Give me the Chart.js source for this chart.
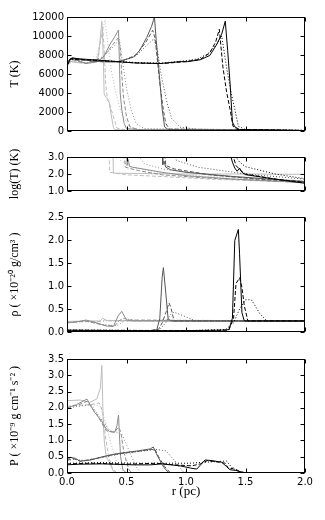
<!DOCTYPE html>
<html>
<head>
<meta charset="utf-8">
<script src="https://cdn.jsdelivr.net/npm/chart.js@4"></script>
<style>
  html, body { margin: 0; padding: 0; background: #fff; }
  #wrap { position: relative; width: 325px; height: 520px; }
  canvas { position: absolute; left: 0; }
</style>
</head>
<body>
<div id="wrap">
  <canvas id="tempChart" width="325" height="132" style="top:8px"></canvas>
  <canvas id="logChart" width="325" height="52" style="top:148px"></canvas>
  <canvas id="rhoChart" width="325" height="133" style="top:208px"></canvas>
  <canvas id="presChart" width="325" height="170" style="top:350px"></canvas>
</div>
<script>
// r (pc) ticks shared by all panels
const rTicks = [0, 0.5, 1.0, 1.5, 2.0];

// ---- temperature T (K), [r, T] ----
const tempG4Solid = [[0,6800],[0.02,7400],[0.04,7700],[0.1,7600],[0.28,7440],[0.56,7170],[0.78,7100],[0.95,7300],[1.01,7300],[1.12,7500],[1.2,7950],[1.26,9150],[1.3,10190],[1.33,11560],[1.35,8500],[1.37,5070],[1.39,950],[1.41,440],[1.45,150],[2,50]];
const tempG4Dashed = [[0,6900],[0.03,7600],[0.1,7550],[0.3,7400],[0.6,7150],[0.8,7100],[1.0,7300],[1.12,7550],[1.2,8200],[1.25,9400],[1.28,10700],[1.31,6750],[1.34,4200],[1.37,2300],[1.395,500],[1.43,150],[2,50]];
const tempG4Dotted = [[0,6900],[0.03,7600],[0.1,7550],[0.3,7400],[0.6,7200],[0.8,7150],[1.0,7400],[1.1,7600],[1.18,8100],[1.25,9000],[1.3,10000],[1.34,6750],[1.38,4000],[1.41,2300],[1.44,500],[1.5,150],[2,80]];
const tempG3Solid = [[0,6900],[0.02,7500],[0.05,7650],[0.15,7450],[0.28,7300],[0.42,7270],[0.56,7780],[0.61,8470],[0.67,9840],[0.71,11000],[0.735,12000],[0.75,9500],[0.77,6750],[0.8,2300],[0.82,430],[0.85,150],[2,50]];
const tempG3Dashed = [[0,6900],[0.03,7550],[0.15,7450],[0.3,7300],[0.45,7300],[0.58,8000],[0.66,9300],[0.72,10600],[0.74,9800],[0.78,5000],[0.81,2200],[0.83,800],[0.86,200],[2,50]];
const tempG3Dotted = [[0,6900],[0.03,7550],[0.15,7450],[0.3,7300],[0.45,7300],[0.58,7900],[0.66,8900],[0.73,9700],[0.76,8500],[0.79,6000],[0.84,3000],[0.88,1300],[0.95,400],[1.09,200],[2,50]];
const tempG2Solid = [[0,7300],[0.03,7600],[0.1,7400],[0.16,7100],[0.25,7270],[0.307,7780],[0.363,9160],[0.4,9900],[0.433,10630],[0.44,7500],[0.447,4000],[0.46,2300],[0.48,800],[0.5,250],[0.6,150],[2,50]];
const tempG2Dashed = [[0,7200],[0.05,7500],[0.16,7100],[0.3,7700],[0.38,9000],[0.43,9800],[0.45,8500],[0.46,6000],[0.475,3500],[0.5,1500],[0.53,400],[0.6,150],[2,50]];
const tempG2Dotted = [[0,7200],[0.05,7500],[0.16,7150],[0.3,7800],[0.4,9000],[0.44,9700],[0.47,7000],[0.5,4500],[0.54,2200],[0.58,800],[0.65,250],[2,50]];
const tempG1Solid = [[0,7000],[0.02,7350],[0.06,7250],[0.12,7150],[0.2,7200],[0.25,7350],[0.265,8000],[0.275,9200],[0.293,11550],[0.3,9500],[0.307,6800],[0.312,3900],[0.33,3500],[0.35,3300],[0.37,1800],[0.39,400],[0.4,150],[0.5,100],[2,50]];
const tempG1Dashed = [[0,7050],[0.05,7300],[0.15,7150],[0.25,7300],[0.27,8500],[0.3,11000],[0.315,8000],[0.325,5000],[0.34,3300],[0.36,2800],[0.39,1500],[0.42,300],[0.5,100],[2,50]];
const tempG1Dotted = [[0,7000],[0.05,7300],[0.15,7150],[0.24,7400],[0.27,9000],[0.32,11700],[0.34,9500],[0.37,6500],[0.41,4000],[0.46,1800],[0.52,500],[0.6,200],[2,50]];
const tempTicks = [0, 2000, 4000, 6000, 8000, 10000, 12000];

// ---- log(T) ----
const logG4Solid = [[1.37,3.2],[1.39,2.7],[1.41,2.35],[1.43,2.16],[1.45,2.35],[1.47,2.1],[1.5,1.96],[1.75,1.7],[2,1.45]];
const logG4Dashed = [[1.39,3.2],[1.42,2.5],[1.46,2.2],[1.5,2.0],[1.75,1.7],[2,1.5]];
const logG4Dotted = [[1.4,3.2],[1.45,2.7],[1.5,2.43],[1.75,2.0],[2,1.72]];
const logG3Solid = [[0.8,3.5],[0.805,2.55],[0.815,2.75],[0.83,2.4],[0.87,2.25],[1.0,2.1],[1.4,1.85],[2,1.55]];
const logG3Dashed = [[0.82,3.5],[0.83,2.5],[0.9,2.3],[1.2,1.95],[1.6,1.7],[2,1.55]];
const logG3Dotted = [[0.88,3.5],[0.92,2.8],[1.1,2.4],[1.5,2.0],[2,1.7]];
const logG2Solid = [[0.5,3.5],[0.505,2.5],[0.515,2.85],[0.525,2.45],[0.55,2.4],[0.8,2.1],[1.0,1.9],[1.4,1.7],[2,1.5]];
const logG2Dashed = [[0.48,3.5],[0.49,2.4],[0.6,2.2],[0.8,1.95],[1.2,1.75],[2,1.5]];
const logG2Dotted = [[0.56,3.5],[0.65,2.6],[0.8,2.3],[1.2,1.95],[1.6,1.75],[2,1.6]];
const logG1Solid = [[0.385,3.5],[0.39,2.05],[0.6,2.03],[1.0,2.0],[1.5,2.0],[2,1.98]];
const logG1Dashed = [[0.35,3.5],[0.36,2.1],[0.5,1.95],[0.8,1.85],[1.2,1.7],[1.6,1.6],[2,1.5]];
const logG1Dotted = [[0.42,3.5],[0.45,2.8],[0.55,2.4],[0.8,2.05],[1.2,1.85],[1.6,1.7],[2,1.6]];
const logTicks = [1.0, 2.0, 3.0];

// ---- density rho (1e-20 g/cm3) ----
const rhoG4Solid = [[0,0.04],[0.5,0.03],[1.0,0.03],[1.3,0.04],[1.36,0.05],[1.39,0.3],[1.41,1.99],[1.44,2.23],[1.45,1.7],[1.47,0.42],[1.49,0.24],[2,0.24]];
const rhoG4Dashed = [[0,0.04],[1.0,0.03],[1.36,0.04],[1.4,0.3],[1.42,1.05],[1.45,1.18],[1.47,0.97],[1.49,0.57],[1.52,0.24],[2,0.24]];
const rhoG4Dotted = [[0,0.04],[1.0,0.03],[1.33,0.05],[1.4,0.2],[1.45,0.5],[1.5,0.7],[1.55,0.7],[1.62,0.4],[1.68,0.24],[2,0.24]];
const rhoG3Solid = [[0,0.03],[0.4,0.03],[0.7,0.03],[0.755,0.05],[0.78,0.3],[0.8,1.2],[0.81,1.4],[0.83,0.85],[0.85,0.28],[0.88,0.24],[2,0.24]];
const rhoG3Dashed = [[0,0.03],[0.7,0.03],[0.77,0.06],[0.8,0.2],[0.835,0.45],[0.857,0.63],[0.87,0.56],[0.9,0.24],[2,0.24]];
const rhoG3Dotted = [[0,0.03],[0.7,0.03],[0.78,0.06],[0.83,0.2],[0.87,0.38],[0.9,0.43],[0.95,0.38],[1.0,0.33],[1.08,0.24],[2,0.24]];
const rhoG2Solid = [[0,0.2],[0.08,0.22],[0.16,0.26],[0.25,0.2],[0.33,0.13],[0.39,0.12],[0.43,0.35],[0.46,0.45],[0.48,0.35],[0.5,0.26],[0.55,0.24],[2,0.24]];
const rhoG2Dashed = [[0,0.2],[0.16,0.24],[0.3,0.15],[0.4,0.13],[0.44,0.25],[0.48,0.3],[0.52,0.26],[2,0.24]];
const rhoG2Dotted = [[0,0.2],[0.16,0.24],[0.3,0.16],[0.42,0.14],[0.47,0.22],[0.52,0.28],[0.58,0.25],[2,0.24]];
const rhoG1Solid = [[0,0.23],[0.2,0.24],[0.28,0.24],[0.3,0.3],[0.33,0.25],[2,0.24]];
const rhoG1Dashed = [[0,0.22],[0.3,0.23],[0.32,0.27],[0.35,0.24],[2,0.24]];
const rhoG1Dotted = [[0,0.22],[0.32,0.23],[0.36,0.26],[0.4,0.24],[2,0.24]];
const rhoTicks = [0.0, 0.5, 1.0, 1.5, 2.0, 2.5];

// ---- pressure P (1e-9 g cm-1 s-2) ----
const presG4Solid = [[0,0.25],[0.1,0.27],[0.3,0.28],[0.56,0.25],[0.7,0.25],[0.8,0.28],[0.95,0.22],[1.04,0.15],[1.09,0.12],[1.16,0.4],[1.22,0.38],[1.3,0.33],[1.34,0.2],[1.37,0.1],[1.42,0.08],[1.49,0],[2,0]];
const presG4Dashed = [[0,0.28],[0.2,0.3],[0.5,0.27],[0.75,0.3],[0.9,0.25],[1.05,0.22],[1.12,0.28],[1.18,0.38],[1.28,0.33],[1.33,0.3],[1.36,0.12],[1.4,0.15],[1.45,0.05],[1.5,0],[2,0]];
const presG4Dotted = [[0,0.3],[0.3,0.32],[0.6,0.3],[0.9,0.3],[1.03,0.3],[1.15,0.33],[1.3,0.36],[1.34,0.37],[1.4,0.1],[1.46,0.04],[1.52,0],[2,0]];
const presG3Solid = [[0,0.4],[0.03,0.48],[0.07,0.45],[0.11,0.36],[0.2,0.4],[0.3,0.5],[0.4,0.58],[0.49,0.63],[0.6,0.68],[0.7,0.74],[0.725,0.8],[0.75,0.6],[0.8,0.25],[0.83,0.1],[0.86,0],[2,0]];
const presG3Dashed = [[0,0.38],[0.05,0.45],[0.11,0.36],[0.25,0.45],[0.4,0.57],[0.55,0.64],[0.7,0.72],[0.74,0.72],[0.77,0.5],[0.82,0.2],[0.87,0],[2,0]];
const presG3Dotted = [[0,0.38],[0.05,0.42],[0.15,0.38],[0.3,0.48],[0.5,0.62],[0.7,0.7],[0.76,0.72],[0.83,0.68],[0.9,0.4],[0.95,0.15],[0.98,0.03],[1.05,0],[2,0]];
const presG2Solid = [[0,2.0],[0.08,2.1],[0.168,2.27],[0.23,1.87],[0.29,1.6],[0.33,1.35],[0.36,1.27],[0.4,1.25],[0.42,1.45],[0.433,1.78],[0.44,1.2],[0.45,0.5],[0.47,0.1],[0.5,0],[2,0]];
const presG2Dashed = [[0,2.0],[0.1,2.1],[0.17,2.2],[0.25,1.8],[0.33,1.3],[0.4,1.25],[0.43,1.4],[0.45,1.3],[0.48,0.6],[0.52,0.1],[0.55,0],[2,0]];
const presG2Dotted = [[0,2.0],[0.1,2.05],[0.2,2.1],[0.28,1.7],[0.36,1.3],[0.42,1.25],[0.46,1.2],[0.52,0.7],[0.58,0.2],[0.62,0],[2,0]];
const presG1Solid = [[0,2.22],[0.11,2.24],[0.19,2.17],[0.25,2.27],[0.28,2.6],[0.293,3.3],[0.305,1.5],[0.315,0.9],[0.33,0.5],[0.36,0.3],[0.39,0.05],[0.42,0],[2,0]];
const presG1Dashed = [[0,2.05],[0.1,2.08],[0.2,2.1],[0.27,2.15],[0.3,1.9],[0.32,1.2],[0.35,0.5],[0.38,0.15],[0.42,0],[2,0]];
const presG1Dotted = [[0,2.0],[0.1,2.05],[0.22,2.1],[0.28,2.05],[0.32,1.6],[0.37,0.9],[0.42,0.3],[0.47,0.05],[0.5,0],[2,0]];
const presTicks = [0.0, 0.5, 1.0, 1.5, 2.0, 2.5, 3.0, 3.5];

// line looks: black on top, then darker to lighter greys
const groupColors = ["#000000", "#555555", "#8c8c8c", "#bdbdbd"];
const dashStyles = [[], [4, 2], [1, 2]];

Chart.defaults.font.family = "'DejaVu Sans', sans-serif";
Chart.defaults.font.size = 10;
Chart.defaults.color = "#000";

function makeSets(groups) {
  const sets = [];
  groups.forEach((styles, g) => {
    styles.forEach((d, s) => {
      sets.push({
        data: d,
        borderColor: groupColors[g],
        borderWidth: 1,
        borderDash: dashStyles[s],
        pointRadius: 0,
        fill: false,
        tension: 0,
      });
    });
  });
  return sets;
}

// box around plot area with inward ticks (like matplotlib)
const framePlugin = {
  id: "frame",
  afterDatasetsDraw(chart) {
    const { ctx, chartArea: a, scales } = chart;
    const L = Math.round(a.left) + 0.5, R = Math.round(a.right) - 0.5;
    const T = Math.round(a.top) + 0.5, B = Math.round(a.bottom) - 0.5;
    ctx.save();
    ctx.strokeStyle = "#000";
    ctx.lineWidth = 1;
    ctx.strokeRect(L, T, R - L, B - T);
    ctx.beginPath();
    rTicks.forEach((v) => {
      const px = Math.round(scales.x.getPixelForValue(v)) + 0.5;
      ctx.moveTo(px, B); ctx.lineTo(px, B - 4);
      ctx.moveTo(px, T); ctx.lineTo(px, T + 4);
    });
    chart.options.yTickValues.forEach((v) => {
      const py = Math.round(scales.y.getPixelForValue(v)) + 0.5;
      ctx.moveTo(L, py); ctx.lineTo(L + 4, py);
      ctx.moveTo(R, py); ctx.lineTo(R - 4, py);
    });
    ctx.stroke();
    ctx.restore();
  },
};

function makeChart(id, groups, yTicks, yTitle, fmt, bottomAxis) {
  const ctx = document.getElementById(id).getContext("2d");
  return new Chart(ctx, {
    type: "line",
    data: { datasets: makeSets(groups) },
    options: {
      responsive: false,
      animation: false,
      yTickValues: yTicks,
      layout: { padding: { top: 8, bottom: bottomAxis ? 17 : 8, left: 0, right: 20 } },
      plugins: { legend: { display: false }, tooltip: { enabled: false } },
      scales: {
        x: {
          type: "linear",
          min: 0,
          max: 2,
          display: bottomAxis,
          grid: { display: false, drawTicks: false },
          border: { display: false },
          afterBuildTicks: (s) => { s.ticks = rTicks.map((v) => ({ value: v })); },
          afterFit: (s) => { s.height = bottomAxis ? 30 : 0; },
          ticks: { padding: 3, maxRotation: 0, autoSkip: false, callback: (v) => v.toFixed(1) },
          title: {
            display: true,
            text: "r (pc)",
            font: { family: "'Liberation Serif', serif", size: 13 },
            padding: { top: 4, bottom: 4 },
          },
        },
        y: {
          min: yTicks[0],
          max: yTicks[yTicks.length - 1],
          grid: { display: false, drawTicks: false },
          border: { display: false },
          afterBuildTicks: (s) => { s.ticks = yTicks.map((v) => ({ value: v })); },
          afterFit: (s) => { s.width = 67; },
          ticks: { padding: 3, autoSkip: false, callback: fmt },
          title: {
            display: true,
            text: yTitle,
            font: { family: "'Liberation Serif', serif", size: 12 },
            padding: { top: 8, bottom: 0 },
          },
        },
      },
    },
    plugins: [framePlugin],
  });
}

const fmtInt = (v) => String(v);
const fmt1 = (v) => v.toFixed(1);

makeChart("tempChart", [
  [tempG4Solid, tempG4Dashed, tempG4Dotted],
  [tempG3Solid, tempG3Dashed, tempG3Dotted],
  [tempG2Solid, tempG2Dashed, tempG2Dotted],
  [tempG1Solid, tempG1Dashed, tempG1Dotted],
], tempTicks, "T (K)", fmtInt, false);

makeChart("logChart", [
  [logG4Solid, logG4Dashed, logG4Dotted],
  [logG3Solid, logG3Dashed, logG3Dotted],
  [logG2Solid, logG2Dashed, logG2Dotted],
  [logG1Solid, logG1Dashed, logG1Dotted],
], logTicks, "log(T) (K)", fmt1, false);

makeChart("rhoChart", [
  [rhoG4Solid, rhoG4Dashed, rhoG4Dotted],
  [rhoG3Solid, rhoG3Dashed, rhoG3Dotted],
  [rhoG2Solid, rhoG2Dashed, rhoG2Dotted],
  [rhoG1Solid, rhoG1Dashed, rhoG1Dotted],
], rhoTicks, "ρ ( ×10⁻²⁰ g/cm³ )", fmt1, false);

makeChart("presChart", [
  [presG4Solid, presG4Dashed, presG4Dotted],
  [presG3Solid, presG3Dashed, presG3Dotted],
  [presG2Solid, presG2Dashed, presG2Dotted],
  [presG1Solid, presG1Dashed, presG1Dotted],
], presTicks, "P ( ×10⁻⁹ g cm⁻¹ s⁻² )", fmt1, true);
</script>
</body>
</html>
